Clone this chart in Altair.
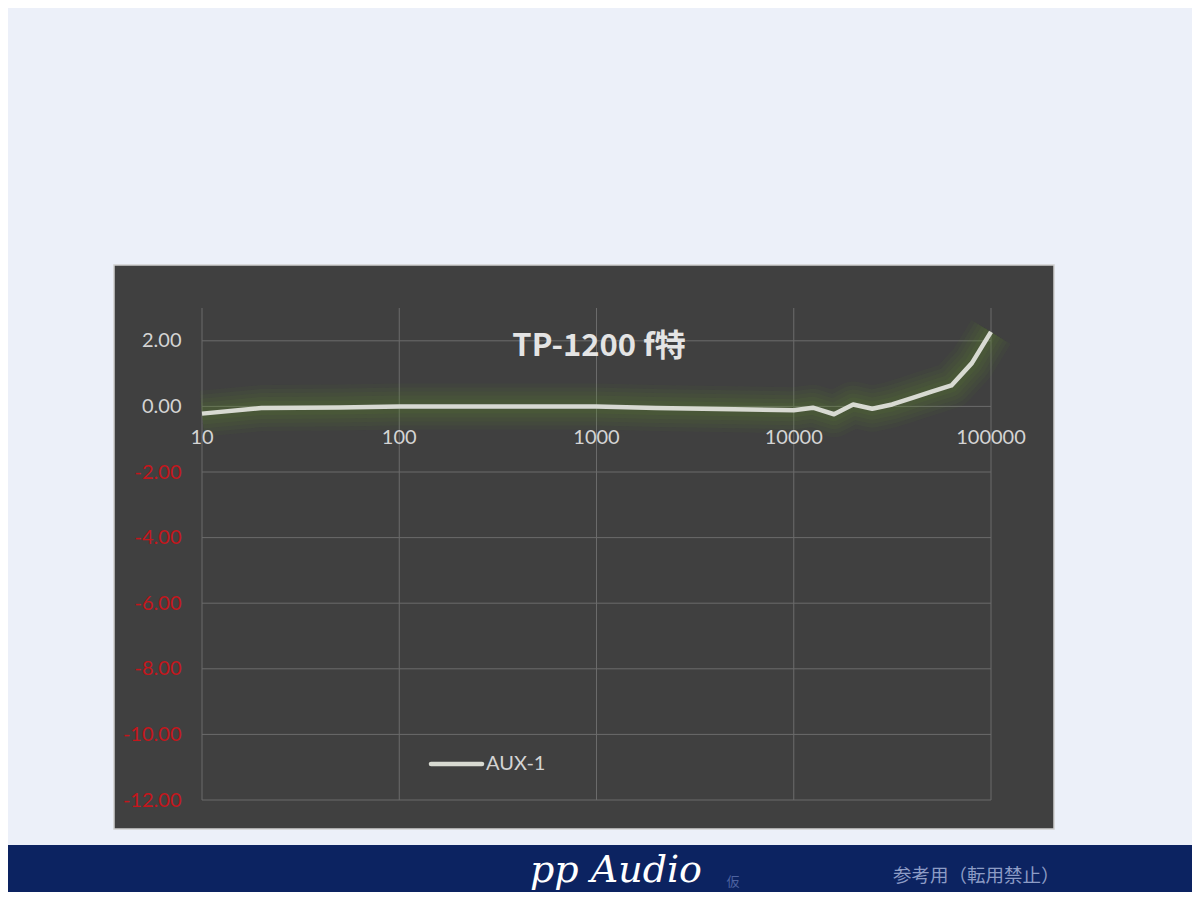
import altair as alt
import pandas as pd

# ---- data ----
freq = [10, 20, 50, 100, 200, 500, 1000, 2000, 5000, 10000, 12500, 16000,
        20000, 25000, 31500, 40000, 50000, 63000, 80000, 100000]
level = [-0.22, -0.05, -0.03, 0.0, 0.0, 0.0, 0.0, -0.05, -0.09, -0.12, -0.04, -0.24,
         0.06, -0.07, 0.06, 0.26, 0.45, 0.64, 1.32, 2.27]
x_ticks = [10, 100, 1000, 10000, 100000]
x_tick_labels = ["10", "100", "1000", "10000", "100000"]
y_ticks = [-12, -10, -8, -6, -4, -2, 0, 2]
series_name = "AUX-1"
title_text = "TP-1200 f特"

df = pd.DataFrame({"freq": freq, "level": level})
xt = pd.DataFrame({"freq": x_ticks, "label": x_tick_labels})
yt = pd.DataFrame({"level": y_ticks})
one = pd.DataFrame({"a": [0]})

W, H = 789, 492
PAGE = "#ecf0f9"
PANEL = "#404040"
NAVY = "#0c2361"
GRID = "#6b6b6b"
LINE = "#d8dad2"

xscale = alt.Scale(type="log", domain=[10, 100000], nice=False)
yscale = alt.Scale(domain=[-12, 3], nice=False, zero=False)
yaxis = alt.Axis(
    values=y_ticks, title="", grid=False, domain=False, ticks=False,
    labelExpr="replace(format(datum.value, '.2f'), '\u2212', '-')",
    labelPadding=21, labelFontSize=20, labelFont="Lato", zindex=1,
    labelColor={"condition": {"test": "datum.value < 0", "value": "#c4161c"}, "value": "#d4d4d4"},
)

X = alt.X("freq:Q", scale=xscale, axis=None)
Y = alt.Y("level:Q", scale=yscale, axis=yaxis)

panel = alt.Chart(one).mark_rect(fill=PANEL, stroke="#cfcfcf", strokeWidth=1.5).encode(
    x=alt.value(-88), x2=alt.value(852), y=alt.value(-43), y2=alt.value(521))
band = alt.Chart(one).mark_rect(fill=NAVY).encode(
    x=alt.value(-220), x2=alt.value(1010), y=alt.value(537), y2=alt.value(600))

hgrid = alt.Chart(yt).mark_rule(color=GRID, strokeWidth=1).encode(
    y=Y, x=alt.value(0), x2=alt.value(W))
vgrid = alt.Chart(xt).mark_rule(color=GRID, strokeWidth=1).encode(
    x=X, y=alt.value(0), y2=alt.value(H))

glows = []
for w, o in [(46, 0.05), (38, 0.06), (30, 0.07), (22, 0.08), (14, 0.09)]:
    glows.append(alt.Chart(df).mark_line(color="#62942f", strokeWidth=w, opacity=o,
                                         strokeCap="butt", strokeJoin="round").encode(x=X, y=Y))

main = alt.Chart(df).mark_line(color=LINE, strokeWidth=4.5, strokeCap="butt",
                               strokeJoin="round").encode(x=X, y=Y)

xlabels = alt.Chart(xt).mark_text(font="Lato", fontSize=20, color="#d4d4d4",
                                  align="center", baseline="middle").encode(
    x=X, y=alt.value(130), text="label:N")

title = alt.Chart(one).mark_text(text=title_text, font="Noto Sans CJK JP", fontWeight="bold",
                                 fontSize=31, color="#e4e4e4", align="center",
                                 baseline="middle").encode(x=alt.value(397), y=alt.value(39))

leg_line = alt.Chart(one).mark_rule(color=LINE, strokeWidth=4.5, strokeCap="round").encode(
    x=alt.value(229), x2=alt.value(280), y=alt.value(456))
leg_text = alt.Chart(one).mark_text(text=series_name, font="Lato", fontSize=20, color="#d4d4d4",
                                    align="left", baseline="middle").encode(
    x=alt.value(284), y=alt.value(456))

brand = alt.Chart(one).mark_text(text="pp Audio", font="DejaVu Serif", fontStyle="italic",
                                 fontSize=38, color="#ffffff", align="center",
                                 baseline="alphabetic").encode(x=alt.value(414), y=alt.value(574))
kari = alt.Chart(one).mark_text(text="仮", font="Noto Sans CJK JP", fontSize=13, color="#4d62a0",
                                align="center", baseline="middle").encode(
    x=alt.value(531), y=alt.value(574))
note = alt.Chart(one).mark_text(text="参考用（転用禁止）", font="Noto Sans CJK JP", fontSize=18.5,
                                color="#8d9cc6", align="left", baseline="middle").encode(
    x=alt.value(691), y=alt.value(568))

chart = alt.layer(
    panel, band, hgrid, vgrid, *glows, main, xlabels, title, leg_line, leg_text, brand, kari, note
).properties(
    width=W, height=H,
    padding={"left": 194, "top": 300, "right": 201, "bottom": 92},
    autosize="none",
    background=PAGE,
).configure_view(strokeWidth=0)

chart.save("out.html", embed_options={"renderer": "svg", "actions": False})
